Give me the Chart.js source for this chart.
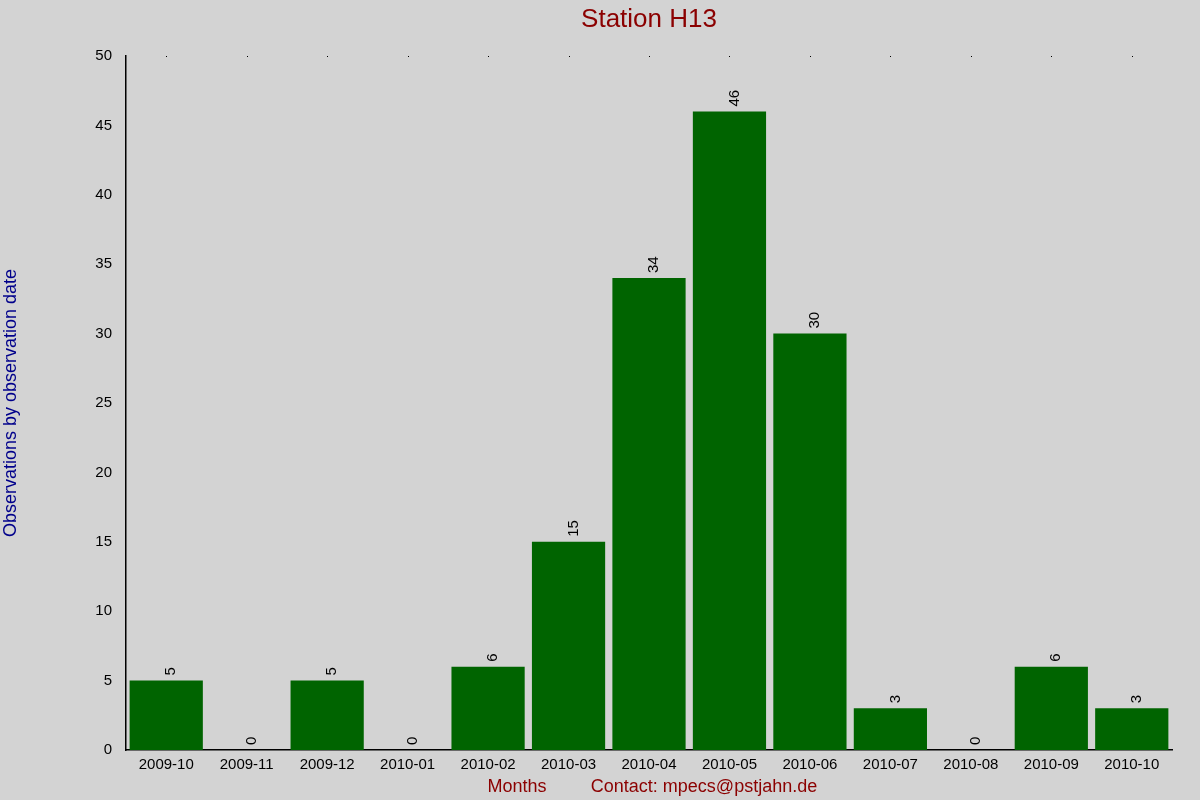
<!DOCTYPE html>
<html><head><meta charset="utf-8">
<script src="https://cdn.jsdelivr.net/npm/chart.js@4"></script>
<style>html,body{margin:0;padding:0;background:#d3d3d3}canvas{display:block}</style>
</head><body>
<div style="width:1200px;height:800px"><canvas id="c"></canvas></div>
<script>
const categories = ["2009-10","2009-11","2009-12","2010-01","2010-02","2010-03","2010-04","2010-05","2010-06","2010-07","2010-08","2010-09","2010-10"];
const observations = [5,0,5,0,6,15,34,46,30,3,0,6,3];
const yTicks = [0,5,10,15,20,25,30,35,40,45,50];
const FONT = "'Liberation Sans', Arial, sans-serif";

const extras = {
  id:'extras',
  afterDatasetsDraw(chart){
    const {ctx, scales:{x,y}} = chart;
    const meta = chart.getDatasetMeta(0);
    ctx.save();
    ctx.fillStyle='#000';
    ctx.font='15px '+FONT;
    meta.data.forEach((bar,i)=>{
      ctx.save();
      ctx.translate(bar.x+5, bar.y-5);
      ctx.rotate(-Math.PI/2);
      ctx.textAlign='left'; ctx.textBaseline='middle';
      ctx.fillText(String(observations[i]),0,0);
      ctx.restore();
      ctx.fillRect(Math.round(x.getPixelForValue(i)),Math.round(y.getPixelForValue(50)),1,1);
    });
    ctx.textAlign='center'; ctx.textBaseline='alphabetic';
    ctx.fillStyle='#8b0000';
    ctx.font='26px '+FONT;
    ctx.fillText('Station H13',649,27);
    ctx.font='18px '+FONT;
    ctx.fillText('Months',517,792);
    ctx.fillText('Contact: mpecs@pstjahn.de'.replace('@','ı'.length?'@':'@'),704,792);
    ctx.restore();
  }
};

new Chart(document.getElementById('c'),{
  type:'bar',
  data:{labels:categories,datasets:[{data:observations,backgroundColor:'#006400',barPercentage:0.91,categoryPercentage:1}]},
  options:{
    responsive:true,maintainAspectRatio:false,animation:false,
    layout:{padding:{top:56,right:28,left:0,bottom:0}},
    plugins:{legend:{display:false},tooltip:{enabled:false}},
    scales:{
      x:{
        grid:{display:false,drawTicks:false},
        border:{color:'#000',width:1.5},
        ticks:{color:'#000',font:{family:FONT,size:15},padding:6,maxRotation:0,autoSkip:false},
        afterFit(s){s.height=50;}
      },
      y:{
        min:0,max:50,
        afterBuildTicks(s){s.ticks=yTicks.map(v=>({value:v}));},
        grid:{display:false,drawOnChartArea:false,drawTicks:true,tickLength:8,color:'#000'},
        border:{color:'#000',width:1.5},
        ticks:{color:'#000',font:{family:FONT,size:15},padding:6},
        title:{display:true,text:'Observations by observation date',color:'#00008b',font:{family:FONT,size:18},padding:0},
        afterFit(s){s.width=126;}
      }
    }
  },
  plugins:[extras]
});
</script>
</body></html>
